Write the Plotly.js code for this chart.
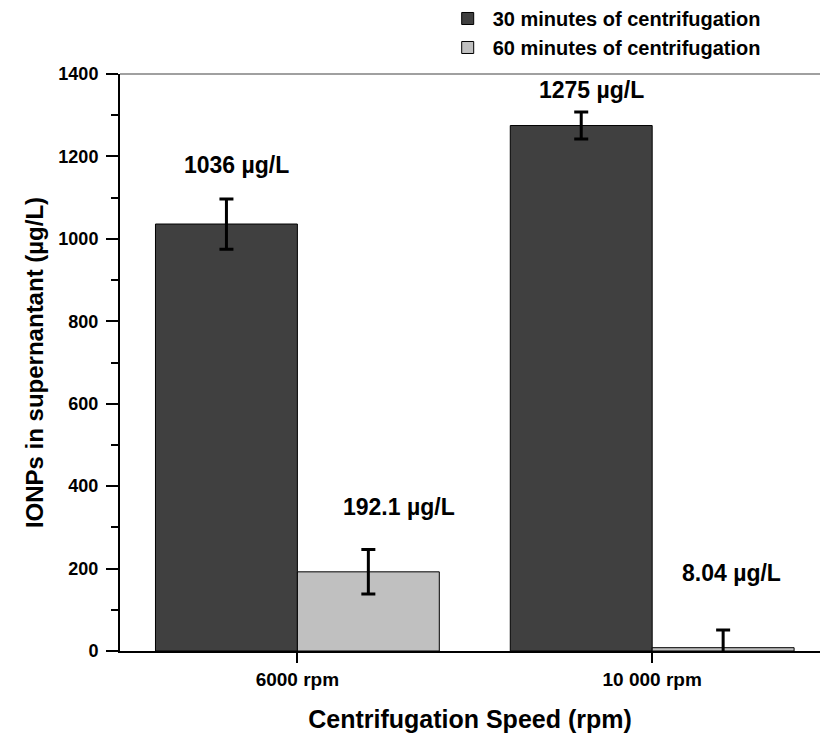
<!DOCTYPE html>
<html>
<head>
<meta charset="utf-8">
<script src="https://cdn.plot.ly/plotly-3.0.1.min.js"></script>
<style>html,body{margin:0;padding:0;background:#fff;}</style>
</head>
<body>
<div id="chart" style="width:820px;height:738px;"></div>
<script>
const categories = ["6000 rpm", "10 000 rpm"];
const series30Name = "30 minutes of centrifugation";
const series60Name = "60 minutes of centrifugation";
const values30 = [1036, 1275];
const values60 = [192.1, 8.04];
const errors30 = [61, 33];
const errors60 = [54, 43];
const labels30 = ["1036 \u00b5g/L", "1275 \u00b5g/L"];
const labels60 = ["192.1 \u00b5g/L", "8.04 \u00b5g/L"];

const FONT = "Liberation Sans, Arial, sans-serif";

const traces = [
  {
    type: "bar", name: series30Name, x: categories, y: values30,
    marker: {color: "#404040", line: {color: "#000", width: 1}},
    error_y: {type: "data", array: errors30, visible: true, color: "#000", thickness: 3, width: 7}
  },
  {
    type: "bar", name: series60Name, x: categories, y: values60,
    marker: {color: "#c0c0c0", line: {color: "#000", width: 1}},
    error_y: {type: "data", array: errors60, visible: true, color: "#000", thickness: 3, width: 7}
  }
];

const labelStyle = {showarrow: false, font: {family: FONT, size: 23, color: "#000", weight: "bold"}, yanchor: "middle", xanchor: "center"};
const annotations = [
  Object.assign({x: 0, y: values30[0], text: "<b>" + labels30[0] + "</b>", xshift: -61, yshift: 59}, labelStyle),
  Object.assign({x: 0, y: values60[0], text: "<b>" + labels60[0] + "</b>", xshift: 102, yshift: 65}, labelStyle),
  Object.assign({x: 1, y: values30[1], text: "<b>" + labels30[1] + "</b>", xshift: -61, yshift: 36}, labelStyle),
  Object.assign({x: 1, y: values60[1], text: "<b>" + labels60[1] + "</b>", xshift: 79, yshift: 75}, labelStyle)
];

const layout = {
  width: 820, height: 738,
  margin: {l: 120, r: 0, t: 74, b: 87, autoexpand: false},
  paper_bgcolor: "#fff", plot_bgcolor: "#fff",
  barmode: "group", bargap: 0.2, bargroupgap: 0,
  font: {family: FONT, color: "#000"},
  showlegend: true,
  legend: {
    x: 0.461, y: 1.13, xanchor: "left", yanchor: "top",
    font: {family: FONT, size: 20, color: "#000", weight: "bold"},
    bgcolor: "rgba(0,0,0,0)", tracegroupgap: 0, itemwidth: 40
  },
  xaxis: {
    type: "category", range: [-0.5, 1.473],
    showgrid: false, zeroline: false,
    showline: true, linecolor: "#000", linewidth: 2,
    ticks: "outside", ticklen: 10, tickwidth: 2, tickcolor: "#000",
    tickson: "labels",
    tickfont: {family: FONT, size: 19, color: "#000", weight: "bold"},
    title: {text: "Centrifugation Speed (rpm)", font: {family: FONT, size: 25, color: "#000", weight: "bold"}, standoff: 22}
  },
  yaxis: {
    range: [0, 1400], dtick: 200, tick0: 0,
    showgrid: false, zeroline: false,
    showline: true, linecolor: "#000", linewidth: 2,
    ticks: "outside", ticklen: 12, tickwidth: 2, tickcolor: "#000",
    minor: {dtick: 100, ticks: "outside", ticklen: 7, tickwidth: 2, tickcolor: "#000", showgrid: false},
    tickfont: {family: FONT, size: 18, color: "#000", weight: "bold"},
    ticklabelstandoff: 4,
    title: {text: "IONPs in supernantant (\u00b5g/L)", font: {family: FONT, size: 24, color: "#000", weight: "bold"}, standoff: 8}
  },
  shapes: [
    {type: "line", xref: "paper", yref: "paper", x0: 0, x1: 1, y0: 1, y1: 1, line: {color: "#808080", width: 1.5}}
  ],
  annotations: annotations
};

Plotly.newPlot("chart", traces, layout, {displayModeBar: false, staticPlot: true});
</script>
</body>
</html>
